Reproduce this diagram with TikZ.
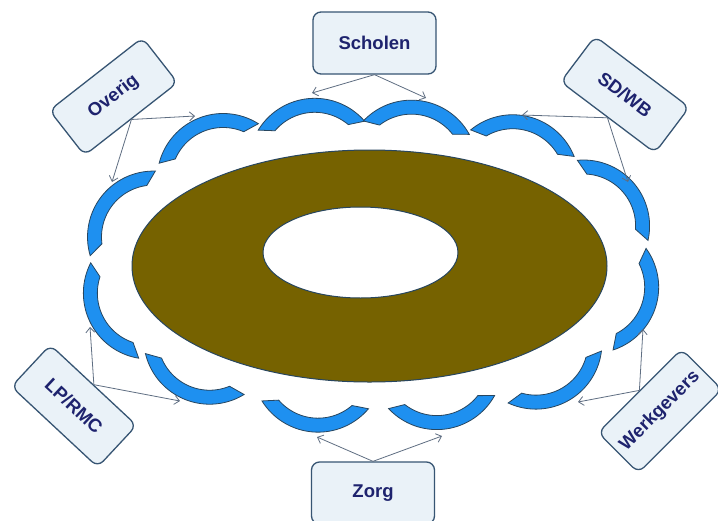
\documentclass[tikz,border=0pt]{standalone}
\usepackage{fontspec}
\setmainfont{Liberation Sans}
\usetikzlibrary{arrows.meta}
\definecolor{brownfill}{RGB}{118,98,0}
\definecolor{bluefill}{RGB}{30,144,240}
\definecolor{edgecol}{RGB}{40,70,95}
\definecolor{boxfill}{RGB}{234,242,248}
\definecolor{boxedge}{RGB}{55,85,115}
\definecolor{txtcol}{RGB}{30,35,110}
\definecolor{arrcol}{RGB}{95,110,130}
\newcommand{\blockarcseg}[3]{%
  \fill[bluefill, draw=edgecol, line width=0.8pt]
   plot[domain={#3-54}:{#3+54}, samples=40] ({#1-38.2*cos(#3)+66*cos(\x)},{#2-38.2*sin(#3)+66*sin(\x)})
   -- plot[domain={#3+45}:{#3-45}, samples=40] ({#1-38.2*cos(#3)+52*cos(\x)},{#2-38.2*sin(#3)+52*sin(\x)})
   -- cycle;
}
\tikzset{
  party/.style={draw=boxedge, line width=1.3pt, fill=boxfill, rounded corners=8pt,
    text=txtcol, font=\fontsize{18.5}{22}\selectfont\bfseries,
    minimum width=118pt, minimum height=57pt, inner sep=0pt},
  bigparty/.style={party, minimum width=123pt, minimum height=62pt},
  link/.style={draw=arrcol, line width=0.8pt, -{Straight Barb[length=5pt,width=9pt]}},
}
\begin{document}
\begin{tikzpicture}[x=1pt, y=-1pt]
\useasboundingbox (0,0) rectangle (718,520);
\fill[white] (0,0) rectangle (718,520);
% ring
\fill[brownfill, draw=edgecol, line width=1pt, even odd rule]
  (369.5,266) ellipse [x radius=237.5pt, y radius=116pt]
  (360.5,252.5) ellipse [x radius=97.5pt, y radius=45.5pt];
% blue arcs
\blockarcseg{209}{144}{-111.7}
\blockarcseg{311.5}{126.25}{-94.8}
\blockarcseg{416.25}{128.25}{-82.8}
\blockarcseg{522.25}{143.75}{-75.6}
\blockarcseg{612.25}{200.75}{-41.4}
\blockarcseg{629}{299}{18}
\blockarcseg{554.5}{376.5}{60.9}
\blockarcseg{441.5}{401.5}{83}
\blockarcseg{315.25}{404.25}{94.2}
\blockarcseg{195}{373.5}{112.5}
\blockarcseg{115.25}{310.25}{153.3}
\blockarcseg{123.25}{213.75}{-142.4}
% boxes
\node[bigparty] (sch) at (374.5,43) {Scholen};
\node[bigparty] (zorg) at (373,493) {Zorg};
\node[party, rotate=38] (ov) at (113.5,96.5) {Overig};
\node[party, rotate=-37] (sd) at (625,94.5) {SD/WB};
\node[party, rotate=-43] (lp) at (74,406) {LP/RMC};
\node[party, rotate=45] (wg) at (660,411) {Werkgevers};
% arrow ends
\coordinate (schL) at (312,93);
\coordinate (schR) at (426,98);
\coordinate (ovR) at (195,116);
\coordinate (ovD) at (112,182);
\coordinate (sdL) at (522,115);
\coordinate (sdD) at (628,182);
\coordinate (lpU) at (90,327);
\coordinate (lpR) at (180,401);
\coordinate (wgU) at (643,329);
\coordinate (wgL) at (578,402);
\coordinate (zoL) at (317,437);
\coordinate (zoR) at (442,436);
% connectors
\draw[link] (sch.south) -- (schL);
\draw[link] (sch.south) -- (schR);
\draw[link] (ov.south) -- (ovR);
\draw[link] (ov.south) -- (ovD);
\draw[link] (sd.south) -- (sdL);
\draw[link] (sd.south) -- (sdD);
\draw[link] (lp.north) -- (lpU);
\draw[link] (lp.north) -- (lpR);
\draw[link] (wg.north) -- (wgU);
\draw[link] (wg.north) -- (wgL);
\draw[link] (zorg.north) -- (zoL);
\draw[link] (zorg.north) -- (zoR);
\end{tikzpicture}
\end{document}
